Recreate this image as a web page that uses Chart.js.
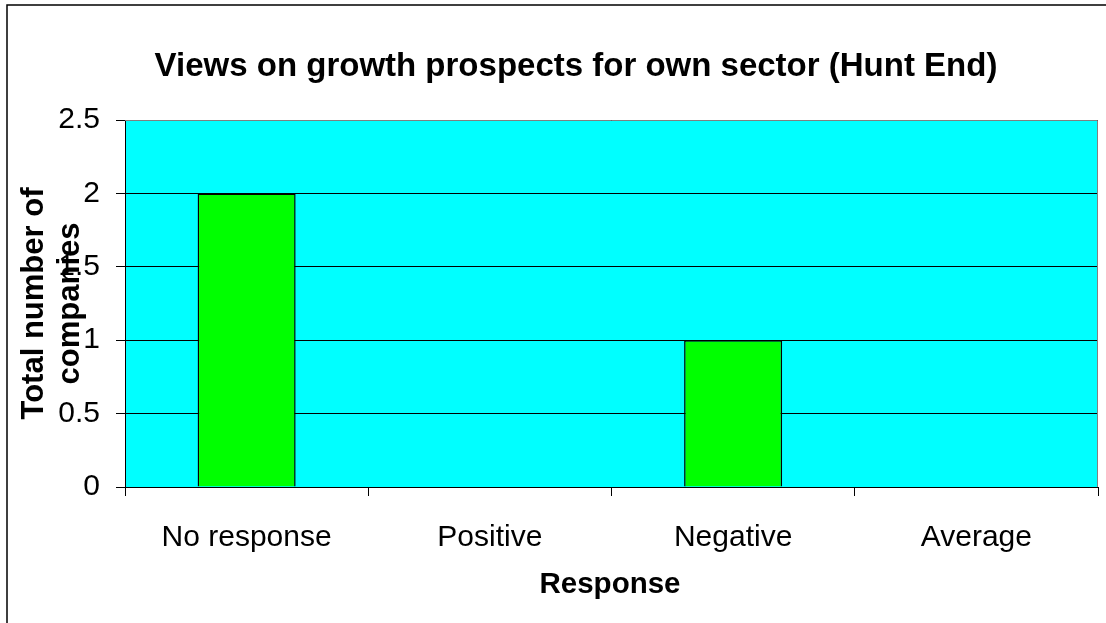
<!DOCTYPE html>
<html>
<head>
<meta charset="utf-8">
<script src="https://cdn.jsdelivr.net/npm/chart.js@4"></script>
<style>
  html, body { margin: 0; padding: 0; background: #fff; }
  #wrap { width: 1106px; height: 623px; }
</style>
</head>
<body>
<div id="wrap"><canvas id="mycanvas" width="1106" height="623"></canvas></div>
<script>
var categories = ['No response', 'Positive', 'Negative', 'Average'];
var companies = [2, 0, 1, 0];
var yTicks = [0, 0.5, 1, 1.5, 2, 2.5];

var chartTitle = 'Views on growth prospects for own sector (Hunt End)';
var xTitle = 'Response';
var yTitle = ['Total number of', 'companies'];

var FONT = '"Liberation Sans", Arial, sans-serif';

// cyan plot background, outer frame and the text titles
var decor = {
  id: 'decor',
  beforeDraw: function(chart) {
    var ctx = chart.ctx, a = chart.chartArea;
    ctx.save();
    ctx.fillStyle = '#00FFFF';
    ctx.fillRect(a.left, a.top, a.right - a.left, a.bottom - a.top);
    ctx.restore();
  },
  afterDraw: function(chart) {
    var ctx = chart.ctx, a = chart.chartArea;
    ctx.save();
    // plot border top/right
    ctx.strokeStyle = '#808080';
    ctx.lineWidth = 1;
    ctx.beginPath();
    ctx.moveTo(a.left, a.top + 0.5);
    ctx.lineTo(a.right - 0.5, a.top + 0.5);
    ctx.lineTo(a.right - 0.5, a.bottom);
    ctx.stroke();
    // outer frame
    ctx.strokeStyle = '#000';
    ctx.lineWidth = 1.5;
    ctx.beginPath();
    ctx.moveTo(7, 640);
    ctx.lineTo(7, 5);
    ctx.lineTo(1120, 5);
    ctx.stroke();

    ctx.fillStyle = '#000';
    ctx.textAlign = 'center';
    ctx.textBaseline = 'alphabetic';
    ctx.font = 'bold 33px ' + FONT;
    ctx.fillText(chartTitle, 576, 76);
    ctx.font = 'bold 29.5px ' + FONT;
    ctx.fillText(xTitle, 610, 593);

    ctx.font = 'bold 31px ' + FONT;
    ctx.translate(0, (a.top + a.bottom) / 2);
    ctx.rotate(-Math.PI / 2);
    ctx.fillText(yTitle[0], 0, 43);
    ctx.fillText(yTitle[1], 0, 79);
    ctx.restore();
  }
};

var ctx = document.getElementById('mycanvas');

var barGraph = new Chart(ctx, {
  type: 'bar',
  data: {
    labels: categories,
    datasets: [{
      label: 'Total number of companies',
      data: companies,
      backgroundColor: '#00FF00',
      borderColor: '#000000',
      borderWidth: 1.5,
      barPercentage: 0.403,
      categoryPercentage: 1
    }]
  },
  options: {
    responsive: false,
    animation: false,
    layout: { padding: { top: 120, right: 8, left: 0, bottom: 0 } },
    plugins: {
      legend: { display: false },
      title: { display: false },
      tooltip: { enabled: false }
    },
    scales: {
      x: {
        afterFit: function(scale) { scale.height = 136; },
        grid: {
          offset: true,
          drawOnChartArea: false,
          drawTicks: true,
          tickLength: 9,
          color: '#000'
        },
        border: { color: '#000', width: 1 },
        ticks: {
          color: '#000',
          padding: 24,
          maxRotation: 0,
          font: { family: FONT, size: 30 }
        }
      },
      y: {
        min: 0,
        max: 2.5,
        afterFit: function(scale) { scale.width = 125; },
        afterBuildTicks: function(scale) {
          scale.ticks = yTicks.map(function(v) { return { value: v }; });
        },
        grid: {
          color: '#000',
          lineWidth: 1,
          tickLength: 9,
          drawTicks: true
        },
        border: { color: '#000', width: 1 },
        ticks: {
          color: '#000',
          padding: 16,
          font: { family: FONT, size: 30 },
          callback: function(value) { return String(value); }
        }
      }
    }
  },
  plugins: [decor]
});
</script>
</body>
</html>
